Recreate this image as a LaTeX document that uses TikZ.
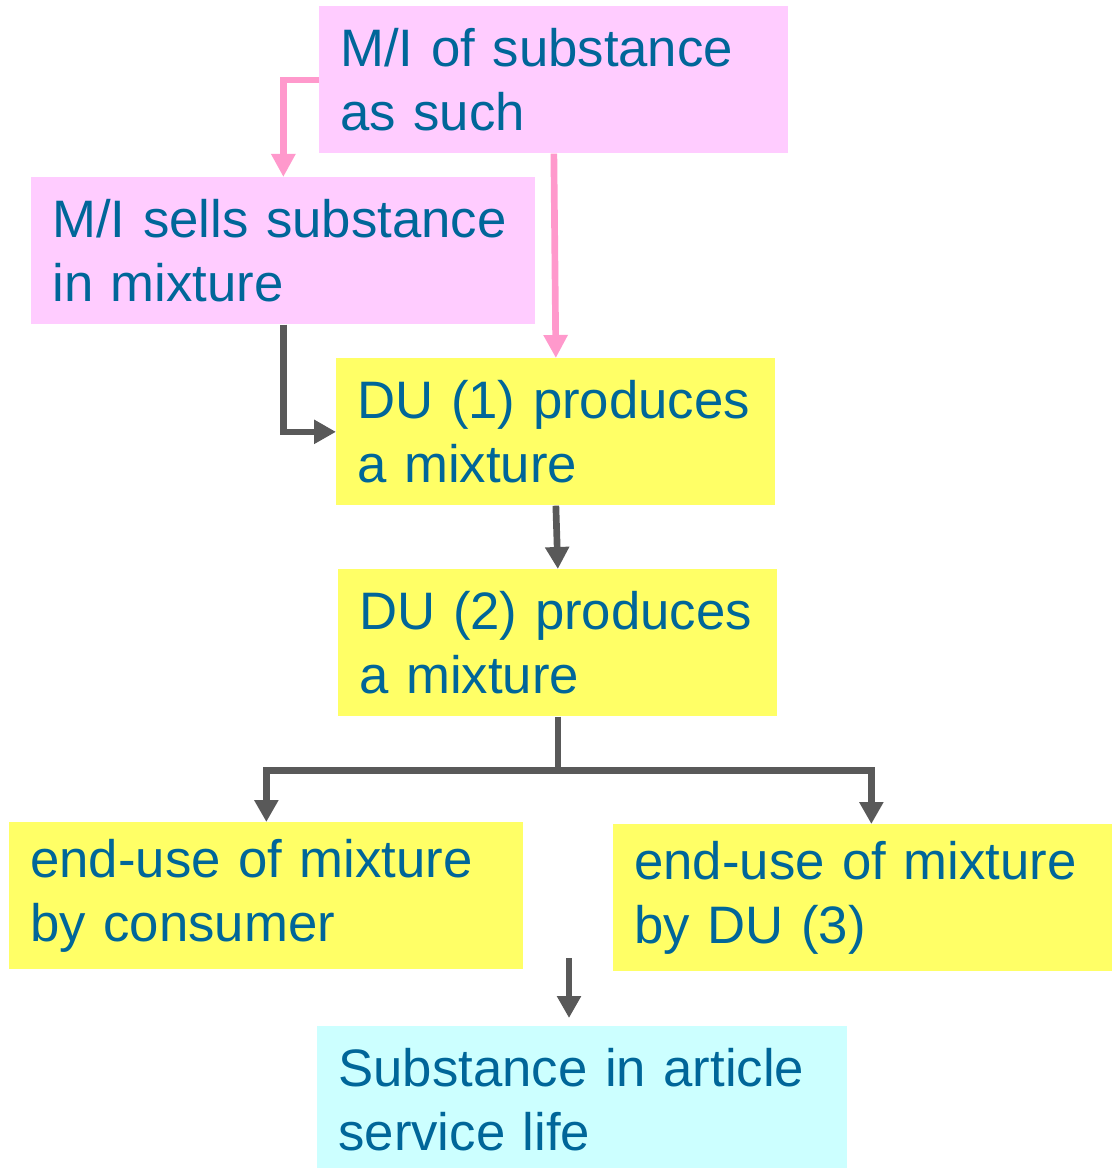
\documentclass[tikz,border=0pt]{standalone}
\usepackage{fontspec}
\setmainfont{Liberation Sans}
\usepackage{tikz}
\usetikzlibrary{arrows.meta}
\definecolor{textBlue}{RGB}{0,102,153}
\definecolor{boxPink}{RGB}{255,204,255}
\definecolor{boxYellow}{RGB}{255,255,102}
\definecolor{boxCyan}{RGB}{204,255,255}
\definecolor{linePink}{RGB}{255,153,204}
\definecolor{lineGray}{RGB}{89,89,89}

\begin{document}
\begin{tikzpicture}[%%
  boxStyle/.style={anchor=north west,inner xsep=0.42cm,inner ysep=0pt,%%
    minimum height=2.94cm,align=left,text=textBlue,%%
    font=\fontsize{30}{36.4}\selectfont},%%
  pinkStyle/.style={boxStyle,fill=boxPink},%%
  yellowStyle/.style={boxStyle,fill=boxYellow},%%
  cyanStyle/.style={boxStyle,fill=boxCyan},%%
  pinkArrowStyle/.style={-{Triangle[length=0.46cm,width=0.46cm]},linePink,line width=3.8pt},%%
  grayArrowStyle/.style={-{Triangle[length=0.44cm,width=0.46cm]},lineGray,line width=3.8pt}%%
]
%%
\useasboundingbox (0,0) rectangle (22.22,-23.36);
%%
%% Draw the boxes.
\node[pinkStyle,text width=8.54cm] (topBox) at (6.38,-0.12)
  {M/I of substance\\as such};
\node[pinkStyle,text width=9.24cm] (sellsBox) at (0.62,-3.54)
  {M/I sells substance\\in mixture};
\node[yellowStyle,text width=7.94cm] (duOne) at (6.72,-7.16)
  {DU (1) produces\\a mixture};
\node[yellowStyle,text width=7.94cm] (duTwo) at (6.76,-11.38)
  {DU (2) produces\\a mixture};
\node[yellowStyle,text width=9.44cm] (consumerBox) at (0.18,-16.44)
  {end-use of mixture\\by consumer};
\node[yellowStyle,text width=9.48cm] (duThree) at (12.26,-16.48)
  {end-use of mixture\\by DU (3)};
\node[cyanStyle,text width=9.76cm] (articleBox) at (6.34,-20.52)
  {Substance in article\\service life};
%%
%% Pink arrows from the M/I.
\draw[pinkArrowStyle] (topBox.west) -| (sellsBox.north);
\draw[pinkArrowStyle] (topBox.south) -- (duOne.north);
%% Gray arrows down the chain.
\draw[grayArrowStyle] (sellsBox.south) |- (duOne.west);
\draw[grayArrowStyle] (duOne.south) -- (duTwo.north);
\draw[lineGray,line width=3.8pt] (duTwo.south) -- ++(0,-1.08) coordinate (split);
\draw[grayArrowStyle] (split) -| (consumerBox.north);
\draw[grayArrowStyle] (split) -| (duThree.north);
%% Arrow into the article.
\coordinate (articleIn) at (11.38,-19.16);
\draw[grayArrowStyle,shorten >=0.16cm] (articleIn) -- (articleIn |- articleBox.north);
\end{tikzpicture}
\end{document}
